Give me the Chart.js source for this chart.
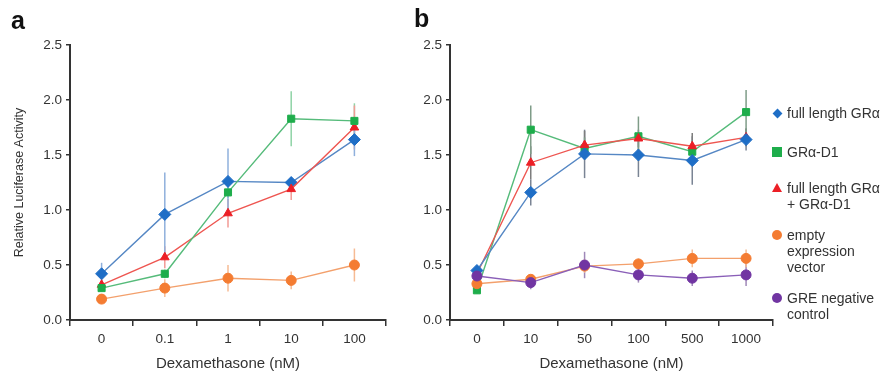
<!DOCTYPE html>
<html>
<head>
<meta charset="utf-8">
<script src="https://cdn.jsdelivr.net/npm/chart.js@4.4.1/dist/chart.umd.min.js"></script>
<style>
  body { margin: 0; background: #fff; font-family: "Liberation Sans", Arial, sans-serif; }
  #wrap { position: relative; width: 887px; height: 378px; overflow: hidden; }
  canvas { position: absolute; top: 0; }
  .panel { position: absolute; font-weight: bold; font-size: 25px; color: #111; }
  #legend { position: absolute; left: 770px; top: 0; width: 117px; color: #333; font-size: 14px; line-height: 16px; }
  .item { position: absolute; left: 0; padding-left: 17px; }
  .mk { position: absolute; left: 3px; top: 4px; }
</style>
</head>
<body>
<div id="wrap">
  <canvas id="chartA" width="400" height="378" style="left:0"></canvas>
  <canvas id="chartB" width="400" height="378" style="left:380px"></canvas>
  <div class="panel" style="left:11px; top:6px">a</div>
  <div class="panel" style="left:414px; top:4px">b</div>
  <div id="legend"></div>
</div>
<script>
// categories (dexamethasone, nM)
const dosesA = ['0', '0.1', '1', '10', '100'];
const dosesB = ['0', '10', '50', '100', '500', '1000'];
const yTickValues = [0, 0.5, 1.0, 1.5, 2.0, 2.5];

// panel a
const grA      = [0.42, 0.96, 1.26, 1.25, 1.64];
const grA_err  = [0.10, 0.38, 0.30, 0.05, 0.15];
const d1A      = [0.29, 0.42, 1.16, 1.83, 1.81];
const d1A_err  = [0.03, 0.04, 0.05, 0.25, 0.16];
const bothA    = [0.32, 0.57, 0.97, 1.19, 1.75];
const bothA_err= [0.04, 0.10, 0.13, 0.10, 0.20];
const emptyA   = [0.19, 0.29, 0.38, 0.36, 0.50];
const emptyA_err=[0.03, 0.08, 0.12, 0.08, 0.15];

// panel b
const grB      = [0.45, 1.16, 1.51, 1.50, 1.45, 1.64];
const grB_err  = [0.04, 0.12, 0.22, 0.20, 0.22, 0.10];
const d1B      = [0.27, 1.73, 1.56, 1.67, 1.53, 1.89];
const d1B_err  = [0.03, 0.22, 0.10, 0.18, 0.10, 0.20];
const bothB    = [0.42, 1.43, 1.59, 1.65, 1.58, 1.66];
const bothB_err= [0.04, 0.15, 0.13, 0.08, 0.12, 0.08];
const emptyB   = [0.33, 0.37, 0.49, 0.51, 0.56, 0.56];
const emptyB_err=[0.03, 0.04, 0.06, 0.05, 0.08, 0.08];
const greB     = [0.40, 0.34, 0.50, 0.41, 0.38, 0.41];
const greB_err = [0.03, 0.06, 0.12, 0.07, 0.07, 0.10];

const seriesNames = ['full length GR\u03b1', 'GR\u03b1-D1', 'full length GR\u03b1\n+ GR\u03b1-D1', 'empty\nexpression\nvector', 'GRE negative\ncontrol'];

const colors = {
  blue:   { mark: '#1f6ec6', line: '#5587c4', err: '#8fb0dc' },
  green:  { mark: '#1ead4b', line: '#55bb7a', err: '#8fd3a6' },
  red:    { mark: '#ec1f26', line: '#ee5550', err: '#f29a95' },
  orange: { mark: '#f47c32', line: '#f3a06c', err: '#f6bb94' },
  purple: { mark: '#7135a2', line: '#8a5fb8', err: '#9f88b8' }
};

// draws the vertical error bars underneath the markers
const errorBars = {
  id: 'errorBars',
  beforeDatasetsDraw(chart) {
    const ctx = chart.ctx;
    const y = chart.scales.y;
    chart.data.datasets.forEach((ds, i) => {
      const meta = chart.getDatasetMeta(i);
      ctx.save();
      ctx.strokeStyle = ds.errColor;
      ctx.lineWidth = 1.5;
      ds.errors.forEach((e, j) => {
        const px = meta.data[j].x;
        ctx.beginPath();
        ctx.moveTo(px, y.getPixelForValue(ds.data[j] + e));
        ctx.lineTo(px, y.getPixelForValue(ds.data[j] - e));
        ctx.stroke();
      });
      ctx.restore();
    });
  }
};

function makeSet(label, data, errors, c, style, radius, errColor) {
  return {
    label: label,
    data: data,
    errors: errors,
    errColor: errColor || c.err,
    borderColor: c.line,
    borderWidth: 1.4,
    backgroundColor: c.mark,
    pointBackgroundColor: c.mark,
    pointBorderColor: c.mark,
    pointBorderWidth: 1,
    pointStyle: style,
    pointRadius: radius,
    tension: 0
  };
}

function axisOpts(showTitle) {
  return {
    x: {
      offset: true,
      grid: { offset: true, drawOnChartArea: false, tickLength: 6, color: '#333', lineWidth: 1.5 },
      border: { color: '#333', width: 2 },
      ticks: { color: '#333', font: { family: 'Liberation Sans', size: 13.5 }, padding: 5 },
      title: { display: true, text: 'Dexamethasone (nM)', color: '#333',
               font: { family: 'Liberation Sans', size: 15 }, padding: { top: 0, bottom: 5 } },
      afterFit(s) { s.height = 58; }
    },
    y: {
      min: 0, max: 2.5,
      afterBuildTicks(s) { s.ticks = yTickValues.map(v => ({ value: v })); },
      grid: { drawOnChartArea: false, tickLength: 4, color: '#333', lineWidth: 1.5 },
      border: { color: '#333', width: 2 },
      ticks: { color: '#333', font: { family: 'Liberation Sans', size: 13.5 }, padding: 4,
               callback: v => Number(v).toFixed(1) },
      title: { display: showTitle, text: 'Relative Luciferase Activity', color: '#333',
               font: { family: 'Liberation Sans', size: 12.5 }, padding: { top: 12, bottom: 0 } },
      afterFit(s) { s.width = 70; }
    }
  };
}

function baseOptions(showTitle, padRight) {
  return {
    responsive: false,
    animation: false,
    layout: { padding: { top: 45, right: padRight, bottom: 0, left: 0 } },
    plugins: { legend: { display: false }, tooltip: { enabled: false } },
    scales: axisOpts(showTitle)
  };
}

new Chart(document.getElementById('chartA'), {
  type: 'line',
  data: {
    labels: dosesA,
    datasets: [
      makeSet(seriesNames[3], emptyA, emptyA_err, colors.orange, 'circle', 5),
      makeSet(seriesNames[1], d1A, d1A_err, colors.green, 'rect', 5),
      makeSet(seriesNames[2], bothA, bothA_err, colors.red, 'triangle', 5),
      makeSet(seriesNames[0], grA, grA_err, colors.blue, 'rectRot', 6)
    ]
  },
  options: baseOptions(true, 14),
  plugins: [errorBars]
});

new Chart(document.getElementById('chartB'), {
  type: 'line',
  data: {
    labels: dosesB,
    datasets: [
      makeSet(seriesNames[4], greB, greB_err, colors.purple, 'circle', 5),
      makeSet(seriesNames[3], emptyB, emptyB_err, colors.orange, 'circle', 5),
      makeSet(seriesNames[0], grB, grB_err, colors.blue, 'rectRot', 6, '#7a8494'),
      makeSet(seriesNames[2], bothB, bothB_err, colors.red, 'triangle', 5, '#7d7d7d'),
      makeSet(seriesNames[1], d1B, d1B_err, colors.green, 'rect', 5, '#7f9c88')
    ]
  },
  options: baseOptions(false, 5),
  plugins: [errorBars]
});

// legend built from the series names
const legendMarks = [
  { c: colors.blue.mark, shape: 'diamond' },
  { c: colors.green.mark, shape: 'square' },
  { c: colors.red.mark, shape: 'triangle' },
  { c: colors.orange.mark, shape: 'circle' },
  { c: colors.purple.mark, shape: 'circle' }
];
const legendTops = [105, 144, 180, 227, 290];
const legend = document.getElementById('legend');
seriesNames.forEach((name, i) => {
  const item = document.createElement('div');
  item.className = 'item';
  item.style.top = legendTops[i] + 'px';
  item.innerHTML = name.split('\n').join('<br>');
  const mk = document.createElement('div');
  mk.className = 'mk';
  const m = legendMarks[i];
  if (m.shape === 'diamond') {
    mk.style.cssText = `left:4px;top:5px;width:7px;height:7px;background:${m.c};transform:rotate(45deg)`;
  } else if (m.shape === 'square') {
    mk.style.cssText = `left:2px;top:3px;width:10px;height:10px;background:${m.c}`;
  } else if (m.shape === 'triangle') {
    mk.style.cssText = `left:2px;top:3px;width:0;height:0;border-left:5px solid transparent;border-right:5px solid transparent;border-bottom:9px solid ${m.c}`;
  } else {
    mk.style.cssText = `left:2px;top:3px;width:10px;height:10px;border-radius:50%;background:${m.c}`;
  }
  item.appendChild(mk);
  legend.appendChild(item);
});
</script>
</body>
</html>
